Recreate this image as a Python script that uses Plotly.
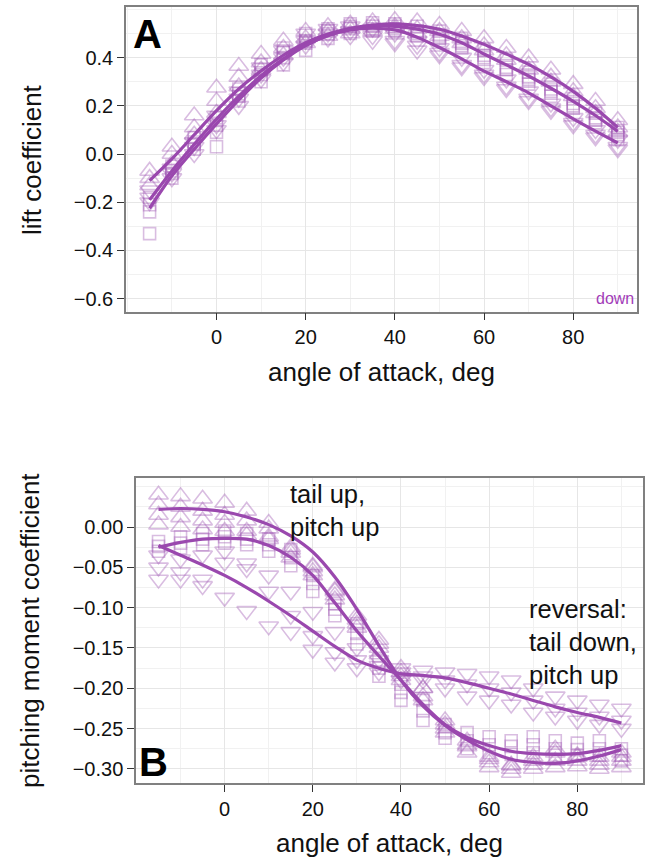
import plotly.graph_objects as go

# angles of attack (deg)
aoa = [-15, -10, -5, 0, 5, 10, 15, 20, 25, 30, 35, 40, 45, 50, 55, 60, 65, 70, 75, 80, 85, 90]

# ---- panel A: lift coefficient ----
lift_fit_up = [-0.11, -0.02, 0.08, 0.18, 0.27, 0.345, 0.41, 0.462, 0.498, 0.522, 0.535, 0.54, 0.533, 0.518, 0.49, 0.455, 0.415, 0.372, 0.32, 0.26, 0.19, 0.11]
lift_fit_sq = [-0.19, -0.07, 0.04, 0.145, 0.24, 0.325, 0.395, 0.452, 0.492, 0.518, 0.53, 0.53, 0.518, 0.497, 0.462, 0.415, 0.37, 0.324, 0.273, 0.219, 0.16, 0.094]
lift_fit_dn = [-0.225, -0.09, 0.02, 0.125, 0.225, 0.315, 0.39, 0.45, 0.492, 0.515, 0.522, 0.515, 0.485, 0.442, 0.395, 0.344, 0.3, 0.254, 0.2, 0.146, 0.095, 0.046]

lift_up_r1 = [-0.07, 0.03, 0.16, 0.275, 0.365, 0.415, 0.47, 0.51, 0.53, 0.54, 0.55, 0.555, 0.55, 0.535, 0.51, 0.48, 0.44, 0.4, 0.35, 0.29, 0.22, 0.14]
lift_up_r2 = [-0.1, 0.0, 0.11, 0.22, 0.32, 0.38, 0.44, 0.48, 0.51, 0.52, 0.53, 0.53, 0.52, 0.51, 0.48, 0.45, 0.41, 0.37, 0.32, 0.26, 0.19, 0.11]
lift_up_r3 = [-0.13, -0.04, 0.08, 0.17, 0.28, 0.35, 0.41, 0.46, 0.49, 0.5, 0.51, 0.52, 0.5, 0.49, 0.46, 0.43, 0.39, 0.35, 0.3, 0.24, 0.17, 0.09]

lift_sq_r1 = [-0.18, -0.05, 0.07, 0.15, 0.27, 0.37, 0.44, 0.5, 0.52, 0.54, 0.545, 0.54, 0.53, 0.51, 0.48, 0.43, 0.39, 0.34, 0.29, 0.23, 0.17, 0.11]
lift_sq_r2 = [-0.21, -0.08, 0.04, 0.09, 0.24, 0.33, 0.4, 0.46, 0.5, 0.52, 0.53, 0.53, 0.51, 0.49, 0.46, 0.41, 0.36, 0.32, 0.27, 0.21, 0.15, 0.09]
lift_sq_r3 = [-0.24, -0.1, 0.02, 0.03, 0.22, 0.3, 0.37, 0.43, 0.48, 0.5, 0.51, 0.51, 0.49, 0.47, 0.44, 0.38, 0.33, 0.29, 0.24, 0.19, 0.13, 0.06]
lift_sq_r4 = [-0.33, -0.07, 0.05, 0.12, 0.25, 0.35, 0.42, 0.47, 0.51, 0.53, 0.52, 0.52, 0.5, 0.48, 0.45, 0.4, 0.35, 0.31, 0.26, 0.2, 0.14, 0.08]

lift_dn_r1 = [-0.15, -0.06, 0.05, 0.16, 0.26, 0.36, 0.43, 0.5, 0.52, 0.53, 0.52, 0.5, 0.47, 0.44, 0.4, 0.35, 0.31, 0.26, 0.21, 0.15, 0.1, 0.06]
lift_dn_r2 = [-0.18, -0.08, 0.03, 0.12, 0.23, 0.33, 0.4, 0.47, 0.5, 0.51, 0.49, 0.47, 0.45, 0.42, 0.37, 0.32, 0.28, 0.23, 0.18, 0.12, 0.08, 0.03]
lift_dn_r3 = [-0.2, -0.1, 0.0, 0.1, 0.2, 0.31, 0.38, 0.45, 0.48, 0.49, 0.47, 0.46, 0.43, 0.41, 0.36, 0.33, 0.27, 0.22, 0.19, 0.13, 0.07, 0.02]

# ---- panel B: pitching moment coefficient ----
pm_fit_up = [0.022, 0.023, 0.022, 0.019, 0.0125, 0.003, -0.011, -0.031, -0.062, -0.102, -0.147, -0.19, -0.222, -0.246, -0.264, -0.278, -0.288, -0.292, -0.293, -0.29, -0.284, -0.276]
pm_fit_sq = [-0.025, -0.019, -0.015, -0.014, -0.015, -0.023, -0.0375, -0.06, -0.094, -0.129, -0.16, -0.19, -0.22, -0.245, -0.261, -0.271, -0.278, -0.281, -0.282, -0.281, -0.277, -0.271]
pm_fit_dn = [-0.023, -0.035, -0.047, -0.06, -0.075, -0.092, -0.11, -0.129, -0.148, -0.165, -0.175, -0.182, -0.184, -0.187, -0.193, -0.2, -0.207, -0.215, -0.223, -0.23, -0.236, -0.243]

pm_up_r1 = [0.04, 0.038, 0.035, 0.03, 0.02, 0.005, -0.025, -0.048, -0.078, -0.11, -0.145, -0.18, -0.2, -0.24, -0.265, -0.285, -0.295, -0.29, -0.28, -0.285, -0.29, -0.285]
pm_up_r2 = [0.028, 0.025, 0.02, 0.015, 0.008, -0.002, -0.032, -0.055, -0.085, -0.12, -0.15, -0.185, -0.21, -0.25, -0.272, -0.292, -0.3, -0.295, -0.29, -0.29, -0.295, -0.29]
pm_up_r3 = [0.015, 0.012, 0.008, 0.005, -0.005, -0.012, -0.038, -0.06, -0.09, -0.125, -0.158, -0.19, -0.215, -0.255, -0.28, -0.298, -0.305, -0.3, -0.298, -0.297, -0.3, -0.298]
pm_up_r4 = [0.003, 0.0, -0.003, -0.005, -0.01, -0.015, -0.028, -0.05, -0.08, -0.115, -0.14, -0.175, -0.2, -0.245, -0.27, -0.288, -0.296, -0.285, -0.275, -0.283, -0.285, -0.28]

pm_sq_r1 = [-0.018, -0.012, -0.008, -0.005, -0.008, -0.015, -0.028, -0.06, -0.095, -0.12, -0.165, -0.195, -0.215, -0.245, -0.255, -0.26, -0.265, -0.26, -0.265, -0.268, -0.265, -0.275]
pm_sq_r2 = [-0.024, -0.02, -0.015, -0.012, -0.015, -0.022, -0.038, -0.07, -0.102, -0.132, -0.175, -0.205, -0.228, -0.255, -0.265, -0.27, -0.272, -0.27, -0.275, -0.276, -0.275, -0.283]
pm_sq_r3 = [-0.03, -0.026, -0.022, -0.02, -0.022, -0.03, -0.048, -0.08, -0.11, -0.145, -0.185, -0.215, -0.24, -0.262, -0.275, -0.28, -0.282, -0.28, -0.283, -0.284, -0.283, -0.29]

pm_dn_r1 = [-0.035, -0.04, -0.035, -0.03, -0.045, -0.06, -0.08, -0.105, -0.13, -0.15, -0.165, -0.175, -0.178, -0.18, -0.182, -0.185, -0.19, -0.2, -0.21, -0.215, -0.22, -0.225]
pm_dn_r2 = [-0.05, -0.056, -0.065, -0.044, -0.052, -0.08, -0.11, -0.135, -0.155, -0.165, -0.172, -0.18, -0.185, -0.19, -0.195, -0.2, -0.205, -0.215, -0.225, -0.23, -0.235, -0.24]
pm_dn_r3 = [-0.065, -0.065, -0.073, -0.0875, -0.104, -0.123, -0.13, -0.152, -0.168, -0.175, -0.18, -0.19, -0.19, -0.2, -0.21, -0.215, -0.22, -0.23, -0.235, -0.24, -0.245, -0.25]

purple = "#9A48AE"
pt_col = "rgba(160,90,180,0.4)"
font_fam = "Liberation Sans, Arial, sans-serif"

fig = go.Figure()


def add_points(reps, symbol, size, xa, ya):
    for r in reps:
        fig.add_trace(go.Scatter(
            x=aoa, y=r, mode="markers", xaxis=xa, yaxis=ya, showlegend=False,
            marker=dict(symbol=symbol, size=size, color=pt_col, line=dict(width=1.6))))


def add_fit(vals, xa, ya):
    fig.add_trace(go.Scatter(
        x=aoa, y=vals, mode="lines", xaxis=xa, yaxis=ya, showlegend=False,
        line=dict(color=purple, width=3.2, shape="spline", smoothing=0.85)))


add_points([lift_sq_r1, lift_sq_r2, lift_sq_r3, lift_sq_r4], "square-open", 12, "x", "y")
add_points([lift_up_r1, lift_up_r2, lift_up_r3], "triangle-up-open", 17, "x", "y")
add_points([lift_dn_r1, lift_dn_r2, lift_dn_r3], "triangle-down-open", 17, "x", "y")
for v in (lift_fit_up, lift_fit_sq, lift_fit_dn):
    add_fit(v, "x", "y")

add_points([pm_sq_r1, pm_sq_r2, pm_sq_r3], "square-open", 12, "x2", "y2")
add_points([pm_up_r1, pm_up_r2, pm_up_r3, pm_up_r4], "triangle-up-open", 17, "x2", "y2")
add_points([pm_dn_r1, pm_dn_r2, pm_dn_r3], "triangle-down-open", 17, "x2", "y2")
for v in (pm_fit_up, pm_fit_sq, pm_fit_dn):
    add_fit(v, "x2", "y2")

axis_common = dict(
    showline=True, mirror=True, linecolor="#808080", linewidth=1.5,
    ticks="outside", ticklen=7, tickwidth=1.4, tickcolor="#333333",
    showgrid=True, gridcolor="#E6E6E6", gridwidth=1.3, zeroline=False,
    tickfont=dict(family=font_fam, size=20, color="#111111"),
)

fig.update_layout(
    width=645, height=862,
    margin=dict(l=0, r=0, t=0, b=0),
    paper_bgcolor="white", plot_bgcolor="white",
    xaxis=dict(domain=[0.1953, 0.9876], range=[-20.3, 94.3], tickvals=[0, 20, 40, 60, 80],
               minor=dict(dtick=10, tick0=0, showgrid=True, gridcolor="#F1F1F1", ticks=""),
               anchor="y", **axis_common),
    yaxis=dict(domain=[0.6384, 0.9913], range=[-0.654, 0.608], tickvals=[-0.6, -0.4, -0.2, 0.0, 0.2, 0.4],
               tickformat=".1f",
               minor=dict(dtick=0.1, tick0=0, showgrid=True, gridcolor="#F1F1F1", ticks=""),
               anchor="x", **axis_common),
    xaxis2=dict(domain=[0.2109, 0.9969], range=[-20.1, 94.9], tickvals=[0, 20, 40, 60, 80],
                minor=dict(dtick=10, tick0=0, showgrid=True, gridcolor="#F1F1F1", ticks=""),
                anchor="y2", **axis_common),
    yaxis2=dict(domain=[0.0911, 0.4451], range=[-0.318, 0.0604],
                tickvals=[-0.3, -0.25, -0.2, -0.15, -0.1, -0.05, 0.0], tickformat=".2f",
                minor=dict(dtick=0.025, tick0=0, showgrid=True, gridcolor="#F1F1F1", ticks=""),
                anchor="x2", **axis_common),
)

title_font = dict(family=font_fam, size=26, color="#111111")
note_font = dict(family=font_fam, size=25.5, color="#111111")
ann = [
    # axis titles
    dict(text="lift coefficient", x=32 / 645, y=1 - 160 / 862, textangle=-90, font=title_font),
    dict(text="angle of attack, deg", x=381 / 645, y=1 - 372 / 862, font=title_font),
    dict(text="pitching moment coefficient", x=30 / 645, y=1 - 631 / 862, textangle=-90, font=title_font),
    dict(text="angle of attack, deg", x=389 / 645, y=1 - 843 / 862, font=title_font),
    # panel letters
    dict(text="<b>A</b>", x=147 / 645, y=1 - 34 / 862, font=dict(family=font_fam, size=40, color="black")),
    dict(text="<b>B</b>", x=153 / 645, y=1 - 762 / 862, font=dict(family=font_fam, size=40, color="black")),
]
for a in ann:
    a.update(xref="paper", yref="paper", xanchor="center", yanchor="middle", showarrow=False)
ann += [
    dict(text="down", x=94.0, y=-0.6, xref="x", yref="y", xanchor="right", yanchor="middle",
         showarrow=False, font=dict(family=font_fam, size=16, color="#A23CB8")),
    dict(text="tail up,<br>pitch up", x=14.3, y=0.021, xref="x2", yref="y2", xanchor="left",
         yanchor="middle", align="left", showarrow=False, font=note_font),
    dict(text="reversal:<br>tail down,<br>pitch up", x=68.5, y=-0.142, xref="x2", yref="y2",
         xanchor="left", yanchor="middle", align="left", showarrow=False, font=note_font),
]
fig.update_layout(annotations=ann)

fig.write_html("out.html", config={"displayModeBar": False},
               post_script="document.body.style.margin='0';")
